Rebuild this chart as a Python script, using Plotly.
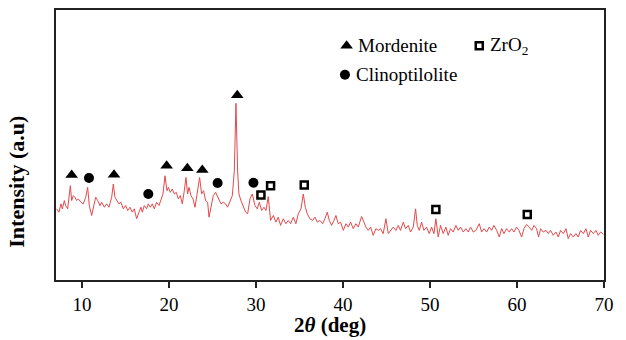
import plotly.graph_objects as go

# XRD pattern (2theta in degrees, intensity in arbitrary units)
two_theta = [7.08, 7.34, 7.57, 7.73, 7.96, 8.11, 8.34, 8.49, 8.65, 8.80, 8.99, 9.18, 9.38, 9.57, 9.87,
             10.14, 10.41, 10.64, 10.83, 11.10, 11.37, 11.56, 11.79, 12.06, 12.25, 12.56, 12.82, 13.09,
             13.40, 13.59, 13.78, 14.01, 14.24, 14.47, 14.74, 15.01, 15.24, 15.51, 15.77, 16.00, 16.27,
             16.54, 16.77, 16.92, 17.15, 17.42, 17.61, 17.84, 18.07, 18.30, 18.57, 18.84, 19.07, 19.30,
             19.53, 19.76, 19.92, 20.14, 20.37, 20.60, 20.83, 21.06, 21.29, 21.52, 21.75, 21.94, 22.13,
             22.29, 22.52, 22.75, 22.98, 23.21, 23.51, 23.74, 23.97, 24.20, 24.43, 24.59, 24.82, 25.08,
             25.35, 25.58, 25.74, 25.97, 26.23, 26.50, 26.73, 27.00, 27.27, 27.50, 27.69, 27.88, 28.03,
             28.26, 28.54, 28.80, 29.03, 29.30, 29.57, 29.87, 30.14, 30.37, 30.64, 30.91, 31.14, 31.40,
             31.67, 31.98, 32.29, 32.55, 32.82, 33.13, 33.43, 33.70, 33.97, 34.28, 34.58, 34.85, 35.16,
             35.43, 35.66, 35.89, 36.19, 36.50, 36.77, 37.04, 37.34, 37.65, 37.92, 38.19, 38.42, 38.68,
             38.95, 39.18, 39.45, 39.72, 40.03, 40.33, 40.60, 40.87, 41.17, 41.48, 41.75, 41.94, 42.13,
             42.40, 42.63, 42.90, 43.17, 43.47, 43.78, 44.05, 44.31, 44.62, 44.93, 45.20, 45.46, 45.77,
             46.08, 46.35, 46.61, 46.92, 47.19, 47.50, 47.76, 48.07, 48.34, 48.53, 48.76, 49.03, 49.30,
             49.60, 49.91, 50.18, 50.45, 50.67, 50.94, 51.21, 51.52, 51.82, 52.09, 52.36, 52.67, 52.97,
             53.24, 53.51, 53.82, 54.12, 54.39, 54.66, 54.97, 55.27, 55.66, 55.93, 56.20, 56.51, 56.81,
             57.08, 57.35, 57.66, 57.96, 58.23, 58.50, 58.80, 59.11, 59.38, 59.65, 59.95, 60.22, 60.53,
             60.80, 61.10, 61.41, 61.68, 61.95, 62.25, 62.48, 62.71, 63.02, 63.33, 63.60, 63.86, 64.17,
             64.48, 64.74, 65.01, 65.32, 65.62, 65.89, 66.16, 66.47, 66.77, 67.04, 67.31, 67.62, 67.92,
             68.19, 68.46, 68.77, 69.07, 69.34, 69.61, 69.92]
intensity = [71.7, 68.3, 76.7, 71.7, 80, 75, 71.7, 85, 95, 80, 85, 83.3, 80, 81.7, 78.3,
             76.7, 83.3, 93.3, 75, 65, 75, 83.3, 80, 75, 78.3, 73.3, 76.7, 73.3,
             83.3, 96.7, 83.3, 80, 76.7, 78.3, 71.7, 75, 70, 73.3, 68.3, 71.7, 61.7,
             68.3, 73.3, 68.3, 75, 71.7, 76.7, 73.3, 76.7, 71.7, 78.3, 75, 80, 86.7,
             105, 90, 93.3, 88.3, 91.7, 86.7, 88.3, 81.7, 85, 76.7, 90, 103.3, 86.7,
             93.3, 85, 81.7, 73.3, 86.7, 103.3, 86.7, 90, 80, 78.3, 63.3, 75, 85,
             88.3, 83.3, 80, 76.7, 78.3, 76.7, 73.3, 80, 85, 110, 178, 110, 86.7,
             80, 73.3, 68.3, 66.7, 81.7, 86.7, 75, 71.7, 78.3, 70, 73.3, 70, 84,
             60, 65, 58.3, 63.3, 55, 61.7, 56.7, 60, 56.7, 63.3, 56.7, 66.7, 71.7,
             86.7, 73.3, 66.7, 61.7, 60, 63.3, 58.3, 60, 56.7, 61.7, 68.3, 60, 55,
             60, 65, 56.7, 58.3, 50, 56.7, 53.3, 58.3, 51.7, 56.7, 53.3, 60, 64,
             58.3, 53.3, 50, 53.3, 45, 51.7, 50, 51.7, 46.7, 61.7, 46.7, 50, 53.3,
             50, 55, 50, 58.3, 51.7, 55, 48.3, 53.3, 71.7, 55, 50, 58.3, 50,
             53.3, 46.7, 53.3, 46.7, 61.7, 43.3, 55, 46.7, 53.3, 45, 51.7, 48.3, 55,
             50, 53.3, 48.3, 51.7, 48.3, 53.3, 48.3, 50, 56.7, 48.3, 51.7, 48.3, 53.3,
             50, 55, 50, 43.3, 51.7, 46.7, 51.7, 48.3, 51.7, 48.3, 53.3, 50, 43.3,
             51.7, 56, 53.3, 50, 55, 51.7, 43.3, 51.7, 48.3, 50, 46.7, 50, 45,
             48.3, 43.3, 50, 46.7, 51.7, 41.7, 46.7, 43.3, 46.7, 43.3, 50, 46.7, 51.7,
             43.3, 50, 46.7, 50, 45, 48.3, 46]

# Phase markers
mordenite_x = [8.80, 13.67, 19.72, 22.10, 23.82, 27.84]
mordenite_y = [105.7, 106, 115, 112.7, 110.7, 186]
clino_x = [10.79, 17.61, 25.58, 29.70]
clino_y = [102.7, 86.7, 97.7, 98]
zro2_x = [30.56, 31.67, 35.54, 50.67, 61.18]
zro2_y = [85.7, 95, 95.7, 71, 66]

# Legend key
legend_labels = ["Mordenite", "ZrO<sub>2</sub>", "Clinoptilolite"]
legend_symbols = ["triangle-up", "square-open", "circle"]
legend_x = [40.41, 55.66, 40.22]
legend_y = [236, 236, 206.7]

FONT = "'Liberation Serif', 'DejaVu Serif', serif"

SQ = dict(symbol="square-open", size=7, color="black", line=dict(width=2.5, color="black"))
TRI = dict(symbol="triangle-up", size=11, color="black")
CIR = dict(symbol="circle", size=10, color="black")
STYLE = {"triangle-up": TRI, "square-open": SQ, "circle": CIR}

fig = go.Figure()
fig.add_trace(go.Scatter(x=two_theta, y=intensity, mode="lines",
                         line=dict(color="#e4494b", width=1), showlegend=False, hoverinfo="skip"))
fig.add_trace(go.Scatter(x=mordenite_x, y=mordenite_y, mode="markers", marker=TRI, showlegend=False))
fig.add_trace(go.Scatter(x=clino_x, y=clino_y, mode="markers", marker=CIR, showlegend=False))
fig.add_trace(go.Scatter(x=zro2_x, y=zro2_y, mode="markers", marker=SQ, showlegend=False))

for lbl, sym, lx, ly in zip(legend_labels, legend_symbols, legend_x, legend_y):
    fig.add_trace(go.Scatter(x=[lx], y=[ly], mode="markers", marker=STYLE[sym], showlegend=False))
    fig.add_annotation(x=lx, y=ly, xref="x", yref="y", text=lbl, showarrow=False,
                       xanchor="left", yanchor="middle", xshift=9,
                       font=dict(family=FONT, size=19, color="black"))

fig.add_annotation(x=0.5, y=0, xref="paper", yref="paper", text="<b>2<i>θ</i> (deg)</b>",
                   showarrow=False, xanchor="center", yanchor="middle", yshift=-45,
                   font=dict(family=FONT, size=21, color="black"))
fig.add_annotation(x=0, y=(280 - 181) / 272, xref="paper", yref="paper", text="<b>Intensity (a.u)</b>",
                   showarrow=False, xanchor="center", yanchor="middle", xshift=-39, textangle=-90,
                   font=dict(family=FONT, size=22, color="black"))

fig.update_layout(
    width=626, height=340,
    margin=dict(l=56, r=22, t=8, b=60),
    paper_bgcolor="white", plot_bgcolor="white",
    font=dict(family=FONT, size=19, color="black"),
    xaxis=dict(range=[7, 70], tickvals=[10, 20, 30, 40, 50, 60, 70],
               ticks="outside", ticklen=6, tickwidth=1.5, tickcolor="#222",
               showline=True, linecolor="#222", linewidth=1.8, mirror=True,
               showgrid=False, zeroline=False,
               tickfont=dict(family=FONT, size=19, color="black")),
    yaxis=dict(range=[0, 272], showticklabels=False, ticks="",
               showline=True, linecolor="#222", linewidth=1.8, mirror=True,
               showgrid=False, zeroline=False),
)

fig.write_html("out.html")
